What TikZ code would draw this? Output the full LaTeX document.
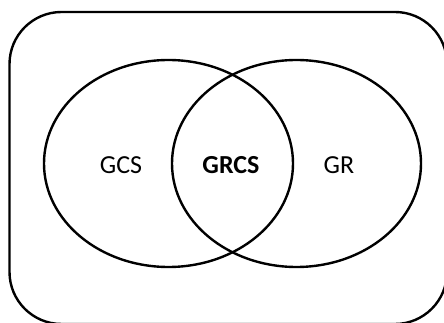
\documentclass[tikz,border=0pt]{standalone}
\usepackage{fontspec}
\setmainfont{Carlito}
\begin{document}
\begin{tikzpicture}[x=1pt,y=-1pt,
  outline/.style={draw=black,line width=2.4pt},
  setlabel/.style={font=\fontsize{26}{30}\selectfont,inner sep=0pt}]
\useasboundingbox (0,0) rectangle (444,323);
\begin{scope}
\clip (0,0) rectangle (444,323);
% universe
\draw[outline,rounded corners=52pt] (9.5,12) rectangle (447,324);
\end{scope}
% the two sets
\draw[outline] (168.5,163.5) ellipse [x radius=124.5, y radius=103.5];
\draw[outline] (296.5,163.5) ellipse [x radius=124.5, y radius=103.5];
% labels
\node[setlabel] (gcs) at (121,165) {GCS};
\node[setlabel] (grcs) at (231,165) {\bfseries GRCS};
\node[setlabel] (gr) at (339,165) {GR};
\end{tikzpicture}
\end{document}
